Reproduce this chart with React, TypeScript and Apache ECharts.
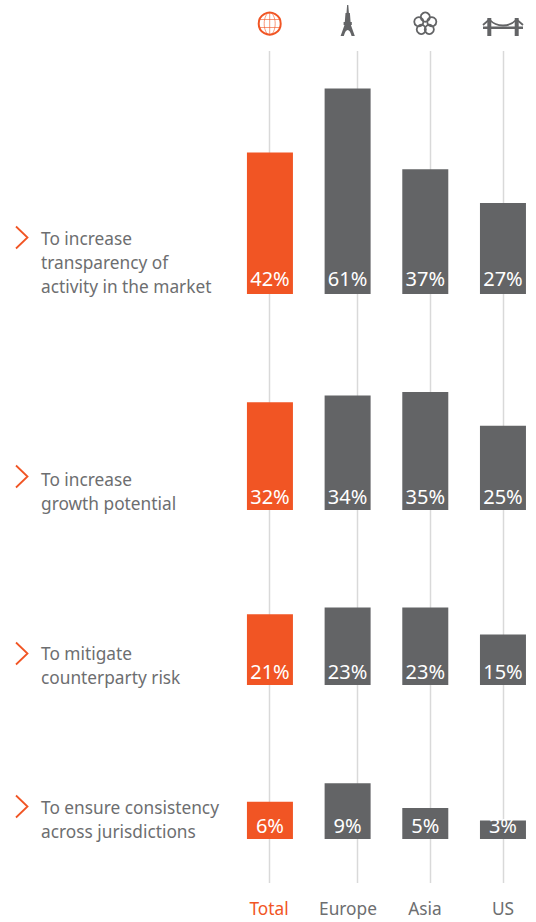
import React, { useEffect, useRef } from "react";
import * as echarts from "echarts";

const regions = ["Total", "Europe", "Asia", "US"];
const transparency = [42, 61, 37, 27];
const growth = [32, 34, 35, 25];
const counterparty = [21, 23, 23, 15];
const consistency = [6, 9, 5, 3];

const transparencyLabel = ["To increase", "transparency of", "activity in the market"];
const growthLabel = ["To increase", "growth potential"];
const counterpartyLabel = ["To mitigate", "counterparty risk"];
const consistencyLabel = ["To ensure consistency", "across jurisdictions"];

const ORANGE = "#f15524";
const GREY = "#636466";
const TEXT = "#6d6e70";
const LINE = "#d9d9d9";
const FONT = "'Noto Sans', sans-serif";
const TEXT_SCALE = 0.91;

echarts.graphic.registerShape(
  "eiffel",
  echarts.graphic.extendPath(
    "M347.1 5 L348.3 5 L348.9 13 L349.9 13 L350.6 22 L351.8 22 L351.8 25 L350.9 25 L354.8 36 L351.6 36 Q350 30 347.7 30 Q345.4 30 343.8 36 L340.6 36 L344.5 25 L343.6 25 L343.6 22 L344.8 22 L345.5 13 L346.5 13 Z",
    {}
  )
);
echarts.graphic.registerShape(
  "cables",
  echarts.graphic.extendPath(
    "M483 25 L489.3 19.5 Q495 25.5 503 25.5 Q511 25.5 516.7 19.5 L523 25",
    {}
  )
);

const rows = [
  { values: transparency, label: transparencyLabel, base: 294, pxPerUnit: 3.37, max: 70, chevron: 237.5, text: 238, labelGap: 6 },
  { values: growth, label: growthLabel, base: 510, pxPerUnit: 3.37, max: 70, chevron: 476.5, text: 479, labelGap: 4 },
  { values: counterparty, label: counterpartyLabel, base: 685, pxPerUnit: 3.37, max: 70, chevron: 653.5, text: 653, labelGap: 4 },
  { values: consistency, label: consistencyLabel, base: 839, pxPerUnit: 6.2, max: 10, chevron: 806.5, text: 807, labelGap: 4 },
];

const lineXs = [269.5, 357.5, 430.5, 503.5];
const regionXs = [269, 348, 425, 503];
const flowerPetals = [-90, -18, 54, 126, 198];

function buildGraphic() {
  const els: any[] = [];
  lineXs.forEach((x) =>
    els.push({
      type: "line",
      z: -1,
      shape: { x1: x, y1: 51, x2: x, y2: 883 },
      style: { stroke: LINE, lineWidth: 1.5 },
    })
  );
  rows.forEach((r) => {
    els.push({
      type: "polyline",
      shape: { points: [[16, r.chevron - 11], [27.5, r.chevron], [16, r.chevron + 11]] },
      style: { stroke: ORANGE, lineWidth: 1.8, fill: "none" },
    });
    r.label.forEach((t, i) =>
      els.push({
        type: "text",
        x: 41,
        y: r.text + i * 24,
        scaleX: TEXT_SCALE,
        style: { text: t, fontFamily: FONT, fontSize: 19, fill: TEXT, textAlign: "left", textVerticalAlign: "middle" },
      })
    );
  });
  regions.forEach((t, i) =>
    els.push({
      type: "text",
      x: regionXs[i],
      y: 908,
      scaleX: TEXT_SCALE,
      style: {
        text: t,
        fontFamily: FONT,
        fontSize: 19,
        fill: i === 0 ? ORANGE : TEXT,
        textAlign: "center",
        textVerticalAlign: "middle",
      },
    })
  );
  // globe
  els.push(
    { type: "circle", shape: { cx: 269.7, cy: 23.7, r: 11 }, style: { stroke: ORANGE, lineWidth: 2, fill: "none" } },
    { type: "ellipse", shape: { cx: 269.7, cy: 23.7, rx: 5.5, ry: 11 }, style: { stroke: ORANGE, lineWidth: 1, fill: "none", opacity: 0.6 } },
    { type: "line", shape: { x1: 269.7, y1: 13, x2: 269.7, y2: 34.5 }, style: { stroke: ORANGE, lineWidth: 1, opacity: 0.6 } },
    { type: "line", shape: { x1: 260, y1: 19.5, x2: 279.5, y2: 19.5 }, style: { stroke: ORANGE, lineWidth: 1, opacity: 0.6 } },
    { type: "line", shape: { x1: 260, y1: 27.5, x2: 279.5, y2: 27.5 }, style: { stroke: ORANGE, lineWidth: 1, opacity: 0.6 } }
  );
  // tower
  els.push({ type: "eiffel", style: { fill: GREY } });
  // flower
  flowerPetals.forEach((a) => {
    const rad = (a * Math.PI) / 180;
    els.push({
      type: "circle",
      shape: { cx: 425.3 + 6.8 * Math.cos(rad), cy: 23.9 + 6.8 * Math.sin(rad), r: 4.6 },
      style: { stroke: GREY, lineWidth: 1.8, fill: "none" },
    });
  });
  // bridge
  els.push(
    { type: "rect", shape: { x: 487.3, y: 18, width: 4, height: 18 }, style: { fill: GREY } },
    { type: "rect", shape: { x: 514.7, y: 18, width: 4, height: 18 }, style: { fill: GREY } },
    { type: "rect", shape: { x: 483, y: 26.5, width: 40, height: 2.4 }, style: { fill: GREY } },
    { type: "cables", style: { stroke: GREY, lineWidth: 1.8, fill: "none" } }
  );
  return els;
}

export default function App() {
  const ref = useRef<HTMLDivElement>(null);
  useEffect(() => {
    const chart = echarts.init(ref.current!, undefined, { renderer: "svg" });
    const gridLeft = 231.1;
    const gridWidth = 310.7;
    chart.setOption({
      animation: false,
      backgroundColor: "#ffffff",
      graphic: buildGraphic(),
      grid: rows.map((r) => {
        const h = r.max * r.pxPerUnit;
        return { left: gridLeft, width: gridWidth, top: r.base - h, height: h, outerBoundsMode: "none" };
      }),
      xAxis: rows.map((r, i) => ({
        type: "category",
        gridIndex: i,
        data: regions,
        axisLine: { show: false },
        axisTick: { show: false },
        axisLabel: { show: false },
      })),
      yAxis: rows.map((r, i) => ({
        type: "value",
        gridIndex: i,
        min: 0,
        max: r.max,
        show: false,
      })),
      series: rows.map((r, i) => ({
        type: "bar",
        xAxisIndex: i,
        yAxisIndex: i,
        barWidth: 46,
        data: r.values.map((v, j) => ({ value: v, itemStyle: { color: j === 0 ? ORANGE : GREY } })),
        label: {
          show: true,
          position: "insideBottom",
          distance: r.labelGap,
          formatter: "{c}%",
          color: "#ffffff",
          fontFamily: FONT,
          fontSize: 20,
        },
      })),
    });
    return () => chart.dispose();
  }, []);
  return <div ref={ref} style={{ position: "absolute", left: 0, top: 0, width: 536, height: 922 }} />;
}
